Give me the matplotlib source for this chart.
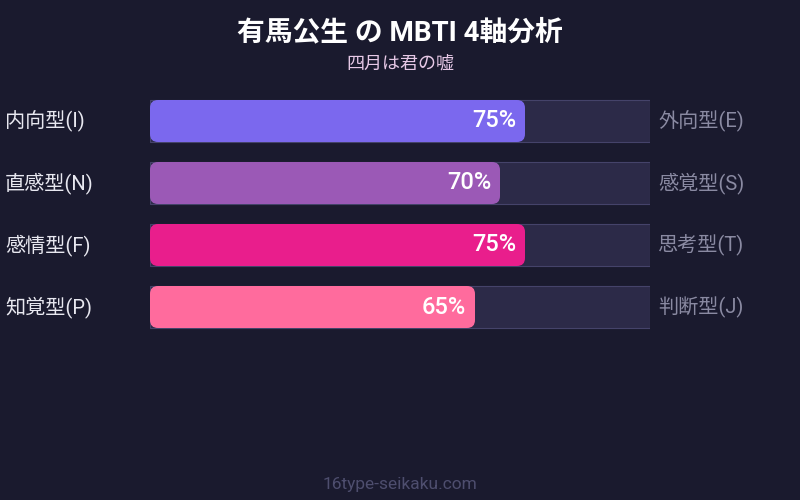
import matplotlib.pyplot as plt
from matplotlib.patches import FancyBboxPatch, Rectangle

plt.rcParams['font.family'] = ['Roboto', 'Noto Sans CJK JP', 'DejaVu Sans']

# MBTI axis data
left_labels = ["内向型(I)", "直感型(N)", "感情型(F)", "知覚型(P)"]
right_labels = ["外向型(E)", "感覚型(S)", "思考型(T)", "判断型(J)"]
values = [75, 70, 75, 65]
colors = ["#7b68ee", "#9b59b6", "#e91e8c", "#ff6b9d"]

title = "有馬公生 の MBTI 4軸分析"
subtitle = "四月は君の嘘"
footer = "16type-seikaku.com"

BG = "#1a1a2e"

fig = plt.figure(figsize=(8, 5), dpi=100, facecolor=BG)

# bar area: x 150..650 px, rows spaced 62 px starting at y=90 px
ax = fig.add_axes([150 / 800, 162 / 500, 500 / 800, 248 / 500])
ax.set_facecolor(BG)
ax.set_xlim(0, 100)
ax.set_ylim(3.5, -0.5)
ax.axis("off")

bar_h = 42 / 62
aspect = (100 / 500) / (4 / 248)  # x units per px / y units per px
mut = 1 / aspect

for i, (val, col) in enumerate(zip(values, colors)):
    ax.add_patch(Rectangle((0, i - bar_h / 2), 100, bar_h,
                           facecolor="#2c2a48", edgecolor="#45436a", linewidth=0.8))
    ax.add_patch(FancyBboxPatch((0, i - bar_h / 2), val, bar_h,
                                boxstyle="round,pad=0,rounding_size=1.6",
                                mutation_aspect=mut,
                                facecolor=col, edgecolor="none"))
    ax.text(val - 1.8, i, f"{val}%", ha="right", va="center",
            color="white", fontsize=17, fontweight="medium")
    ax.text(-29, i, left_labels[i], ha="left", va="center",
            color="#e8e8f0", fontsize=14.5, clip_on=False)
    ax.text(101.6, i, right_labels[i], ha="left", va="center",
            color="#8a8aa2", fontsize=14.5, clip_on=False)

fig.text(0.5, 1 - 33 / 500, title, ha="center", va="center",
         color="white", fontsize=20, fontweight="bold")
fig.text(0.5, 1 - 63 / 500, subtitle, ha="center", va="center",
         color="#e6c8e6", fontsize=13)
fig.text(0.5, 1 - 484 / 500, footer, ha="center", va="center",
         color="#4e4e6e", fontsize=12.5)

fig.savefig("out.png", dpi=100, facecolor=BG)
